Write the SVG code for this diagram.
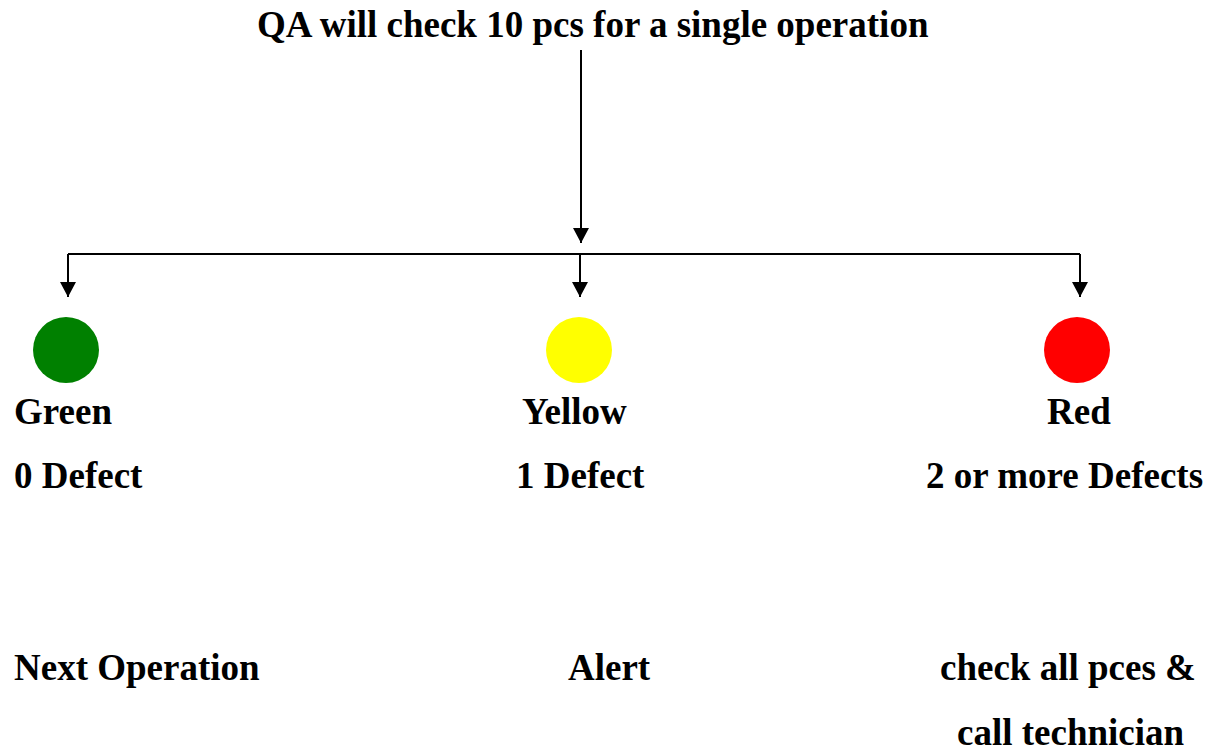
<svg xmlns="http://www.w3.org/2000/svg" width="1215" height="751" viewBox="0 0 1215 751">
  <style>
    text { font-family: "Liberation Serif", "Times New Roman", serif; font-weight: bold; font-size: 37px; fill: #000; }
    .wire { stroke: #000; stroke-width: 2; fill: none; }
  </style>
  <defs>
    <marker id="head" markerWidth="16" markerHeight="16" refX="15" refY="8" orient="auto" markerUnits="userSpaceOnUse" viewBox="0 0 16 16">
      <path d="M0,0 L15,8 L0,16 Z" fill="#000"/>
    </marker>
  </defs>

  <rect width="1215" height="751" fill="#fff"/>

  <g id="title">
    <text x="257" y="37">QA will check 10 pcs for a single operation</text>
  </g>

  <g id="connectors">
    <path class="wire" d="M581,50 L581,243" marker-end="url(#head)"/>
    <path class="wire" d="M68,254 L1080,254"/>
    <path class="wire" d="M68,254 L68,297" marker-end="url(#head)"/>
    <path class="wire" d="M580,254 L580,297" marker-end="url(#head)"/>
    <path class="wire" d="M1080,254 L1080,297" marker-end="url(#head)"/>
  </g>

  <g id="green">
    <circle cx="66" cy="350" r="33" fill="#008000"/>
    <text x="14" y="424">Green</text>
    <text x="14" y="488">0 Defect</text>
    <text x="14" y="680">Next Operation</text>
  </g>

  <g id="yellow">
    <circle cx="579" cy="350" r="33" fill="#ffff00"/>
    <text x="522" y="424">Yellow</text>
    <text x="516" y="488">1 Defect</text>
    <text x="568" y="680">Alert</text>
  </g>

  <g id="red">
    <circle cx="1077" cy="350" r="33" fill="#ff0000"/>
    <text x="1047" y="424">Red</text>
    <text x="926" y="488">2 or more Defects</text>
    <text x="940" y="680">check all pces &amp;</text>
    <text x="957" y="745">call technician</text>
  </g>
</svg>
